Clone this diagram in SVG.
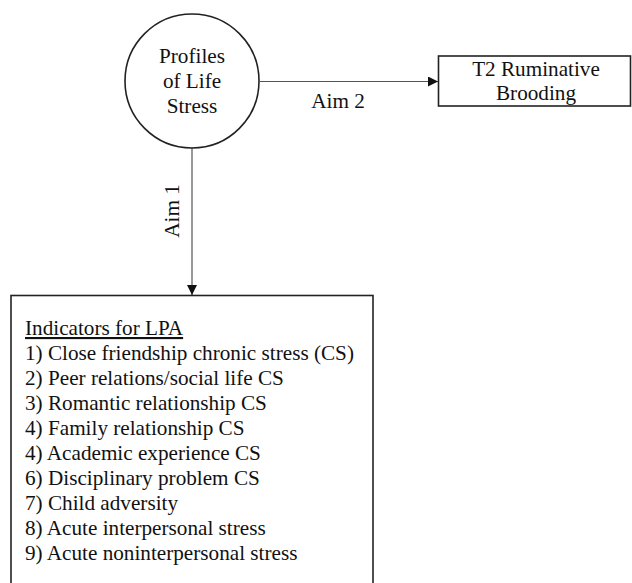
<svg xmlns="http://www.w3.org/2000/svg" width="632" height="583" viewBox="0 0 632 583">
<defs>
<marker id="arr" viewBox="0 0 10 10" refX="10" refY="5" markerWidth="10" markerHeight="10" markerUnits="userSpaceOnUse" orient="auto">
<path d="M0,0 L10,5 L0,10 z" fill="#111"/>
</marker>
<style>
text{font-family:"Liberation Serif","Times New Roman",serif;font-size:21.2px;fill:#111}
.shape{fill:#fff;stroke:#222;stroke-width:1.6}
.conn{stroke:#555;stroke-width:1.2;fill:none}
.c{text-anchor:middle}
</style>
</defs>
<rect width="632" height="583" fill="#fff"/>
<g id="connectors">
<line class="conn" x1="260" y1="81.5" x2="438" y2="81.5" marker-end="url(#arr)"/>
<line class="conn" x1="192" y1="148" x2="192" y2="295" marker-end="url(#arr)"/>
<text x="338" y="108" class="c">Aim 2</text>
<text transform="translate(179,211) rotate(-90)" class="c">Aim 1</text>
</g>
<g id="profiles">
<circle class="shape" cx="192" cy="81" r="67"/>
<text x="192" y="63" class="c">Profiles</text>
<text x="192" y="88" class="c">of Life</text>
<text x="192" y="113" class="c">Stress</text>
</g>
<g id="brooding">
<rect class="shape" x="438.5" y="56" width="192" height="50"/>
<text x="536" y="76" class="c">T2 Ruminative</text>
<text x="536" y="100" class="c">Brooding</text>
</g>
<g id="indicators">
<rect class="shape" x="11" y="295.5" width="362" height="300"/>
<text x="25" y="335" text-decoration="underline">Indicators for LPA</text>
<text x="25" y="360">1) Close friendship chronic stress (CS)</text>
<text x="25" y="385">2) Peer relations/social life CS</text>
<text x="25" y="410">3) Romantic relationship CS</text>
<text x="25" y="435">4) Family relationship CS</text>
<text x="25" y="460">4) Academic experience CS</text>
<text x="25" y="485">6) Disciplinary problem CS</text>
<text x="25" y="510">7) Child adversity</text>
<text x="25" y="535">8) Acute interpersonal stress</text>
<text x="25" y="560">9) Acute noninterpersonal stress</text>
</g>
</svg>
